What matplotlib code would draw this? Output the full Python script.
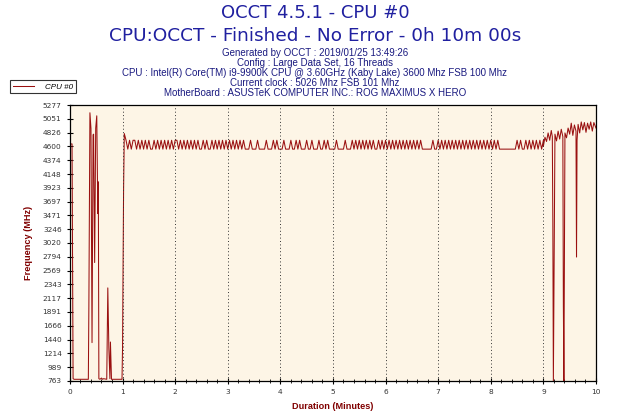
import matplotlib
matplotlib.use("Agg")
import matplotlib.pyplot as plt
import numpy as np

# first minute: warm-up spikes (minutes, MHz)
t_start = [0.02, 0.04, 0.05, 0.06, 0.08, 0.35, 0.36, 0.38, 0.40, 0.42, 0.44, 0.45,
           0.47, 0.49, 0.51, 0.53, 0.54, 0.55, 0.57, 0.60, 0.62, 0.64, 0.70, 0.72,
           0.74, 0.76, 0.77, 0.79, 0.81, 0.99, 1.00, 1.02]
f_start = [4640, 4640, 2660, 800, 790, 790, 1975, 5150, 4890, 1390, 4790, 4800,
           2700, 4900, 5100, 3500, 4020, 800, 790, 810, 790, 800, 790, 2285,
           1300, 800, 1400, 790, 790, 790, 1300, 3900]

# 1..9 minutes, one char per 2 s sample: H = high, L = low
steady_pattern = [
    "HHLHLHHLHLHLHLHLLHLHLHLHLHLHLH",
    "HLHLHLHLHLHLHLLHLHLLHLHLHLHLHL",
    "HLHLHLHLHLLLHLLLHLLLLHLLLHLHLL",
    "LHLLLHLLHLHLLLHLLHLLLHLLHLHLLL",
    "LHLLLLHLLLHLHLHLHLHLHLHLLHLHLH",
    "LHLHLHLHLHLHLHLHLHLHLLLLLLHLLH",
    "LHLHLHLHLHLHLHLHLHLHLHLHLHLHLH",
    "LHLHLLLLLLLLLLHLHLLHLHLHLHLHLH",
]
level = {"H": 4700, "L": 4555}
first_peak = 4810

# last minute (minutes, MHz)
t_end = [9.00, 9.03, 9.06, 9.09, 9.12, 9.15, 9.17, 9.18, 9.19, 9.22, 9.25, 9.28,
         9.31, 9.34, 9.37, 9.38, 9.39, 9.41, 9.44, 9.47, 9.50, 9.53, 9.56, 9.59,
         9.62, 9.63, 9.64, 9.66, 9.69, 9.72, 9.75, 9.78, 9.81, 9.84, 9.87, 9.90,
         9.93, 9.96, 10.0]
f_end = [4600, 4750, 4680, 4820, 4700, 4860, 4760, 3350, 763, 4800, 4690, 4850,
         4720, 4880, 4760, 2000, 763, 4820, 4740, 4900, 4800, 4980, 4780, 4950,
         4850, 2790, 4700, 4960, 4820, 5000, 4870, 4990, 4830, 4980, 4880, 5000,
         4850, 4990, 4900]

# assemble series
t_mid, f_mid = [], []
for m, row in enumerate(steady_pattern):
    for i, ch in enumerate(row):
        t_mid.append(1 + m + (i + 1) / 30)
        f_mid.append(level[ch])
f_mid[0] = first_peak
times = t_start + t_mid + t_end
freqs = f_start + f_mid + f_end

y_ticks = [763, 989, 1214, 1440, 1666, 1891, 2117, 2343, 2569, 2794, 3020,
           3246, 3471, 3697, 3923, 4148, 4374, 4600, 4826, 5051, 5277]

small = "Liberation Sans"

fig = plt.figure(figsize=(6.3, 4.2), dpi=100)
ax = fig.add_axes([0.111, 0.093, 0.835, 0.657])
ax.set_facecolor("#fdf5e6")
ax.plot(times, freqs, color="#9a1010", lw=0.75)

ax.set_xlim(0, 10)
ax.set_ylim(763, 5277)
ax.set_xticks(range(11))
ax.set_xticks(np.arange(0, 10.01, 0.2), minor=True)
ax.set_yticks(y_ticks)
ax.tick_params(axis="both", which="major", direction="inout", length=5, width=0.8,
               labelsize=5.3, labelcolor="#333333")
ax.tick_params(axis="both", which="minor", direction="inout", length=3, width=0.6)
for x in range(1, 10):
    ax.axvline(x, color="#333333", ls=(0, (1, 2.5)), lw=0.7)
for s in ax.spines.values():
    s.set_linewidth(0.9)

ax.set_xlabel("Duration (Minutes)", color="#800000", fontsize=6.6, fontweight="bold",
              family=small, labelpad=5)
ax.set_ylabel("Frequency (MHz)", color="#800000", fontsize=6.6, fontweight="bold",
              family=small, labelpad=7)

fig.text(0.5, 0.968, "OCCT 4.5.1 - CPU #0", ha="center", va="center",
         fontsize=13, color="#2020a0")
fig.text(0.5, 0.914, "CPU:OCCT - Finished - No Error - 0h 10m 00s", ha="center",
         va="center", fontsize=13.3, color="#2020a0")
info = ["Generated by OCCT : 2019/01/25 13:49:26",
        "Config : Large Data Set, 16 Threads",
        "CPU : Intel(R) Core(TM) i9-9900K CPU @ 3.60GHz (Kaby Lake) 3600 Mhz FSB 100 Mhz",
        "Current clock : 5026 Mhz FSB 101 Mhz",
        "MotherBoard : ASUSTeK COMPUTER INC.: ROG MAXIMUS X HERO"]
for i, line in enumerate(info):
    fig.text(0.5, 0.874 - i * 0.0238, line, ha="center", va="center",
             fontsize=7, color="#1a1a80", family=small)

leg = ax.legend(["CPU #0"], loc="upper left", bbox_to_anchor=(-0.114, 1.09),
                prop={"family": small, "size": 5.8, "style": "italic"},
                frameon=True, fancybox=False, borderpad=0.35,
                handlelength=2.6, handletextpad=1.4, borderaxespad=0)
leg.get_frame().set_edgecolor("black")
leg.get_frame().set_linewidth(0.8)

fig.savefig("out.png", dpi=100)
